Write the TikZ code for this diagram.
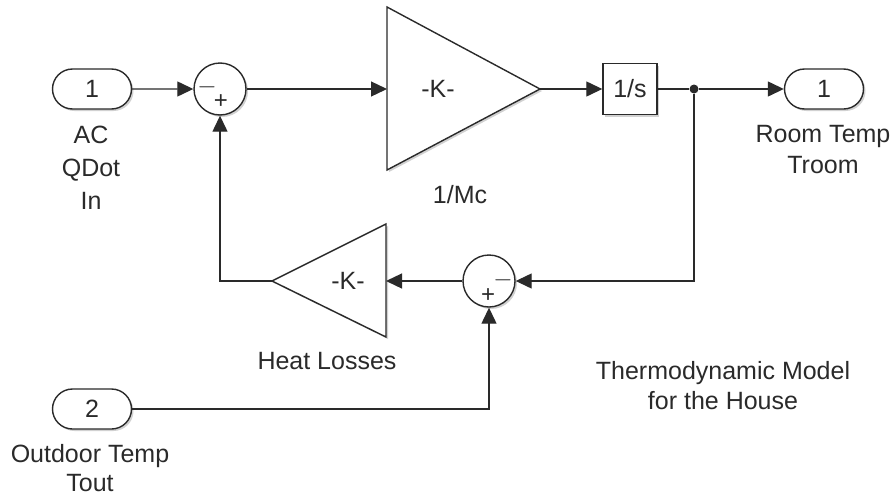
\documentclass[tikz,border=0pt]{standalone}
\usepackage{fontspec}
\setmainfont{Liberation Sans}
\usetikzlibrary{arrows.meta,shapes.misc,shadows}
\definecolor{ln}{HTML}{2A2A2A}
\begin{document}
\begin{tikzpicture}[x=1pt,y=-1pt,
  every node/.style={font=\fontsize{25}{33}\selectfont, text=ln},
  wire/.style={draw=ln, line width=1.3pt},
  arr/.style={wire, -{Triangle[length=16pt,width=15pt]}},
  shd/.style={drop shadow={shadow xshift=2pt, shadow yshift=-2pt, fill=gray!45, opacity=0.8}},
  port/.style={rounded rectangle, draw=ln, line width=1.4pt, fill=white, minimum width=79pt, minimum height=40pt, inner sep=0pt, shd},
  sumblk/.style={circle, draw=ln, line width=1.4pt, fill=white, minimum size=52pt, inner sep=0pt, shd},
  intblk/.style={rectangle, draw=ln, line width=1.4pt, fill=white, minimum width=54pt, minimum height=51pt, inner sep=0pt, shd},
  gainblk/.style={draw=ln, line width=1.4pt, fill=white, line join=miter, shd},
  lbl/.style={align=center, inner sep=0pt},
  sgn/.style={font=\fontsize{24}{24}\selectfont, inner sep=0pt},
  dotnode/.style={circle, fill=ln, minimum size=9pt, inner sep=0pt}]
\useasboundingbox (0,0) rectangle (893,498);

% blocks
\node[port] (in1) at (92,89) {1};
\node[port] (in2) at (92,409) {2};
\node[port] (out1) at (824,89) {1};
\node[sumblk] (s1) at (220,89) {};
\node[sumblk] (s2) at (489,281) {};
\node[intblk] (int) at (630,89) {1/s};

% gain 1/Mc
\draw[gainblk] (387,7) -- (540,89) -- (387,170) -- cycle;
\coordinate (g1in) at (387,89);
\coordinate (g1out) at (540,89);
\node (g1k) at (438,89) {-K-};
\node (g1l) at (460,195) {1/Mc};

% gain heat losses
\draw[gainblk] (386,224) -- (272,281) -- (386,337) -- cycle;
\coordinate (g2in) at (386,281);
\coordinate (g2out) at (272,281);
\node (g2k) at (348,281) {-K-};
\node (g2l) at (327,361) {Heat Losses};

% signs
\node[sgn] (s1m) at (207,87) {$-$};
\node[sgn] (s1p) at (221,102) {+};
\node[sgn] (s2m) at (503,280) {$-$};
\node[sgn] (s2p) at (488,296) {+};

% labels
\node[lbl] (l1) at (91,168) {AC\\QDot\\In};
\node[lbl, font=\fontsize{25}{31}\selectfont] (l2) at (823,150) {Room Temp\\Troom};
\node[lbl, font=\fontsize{25}{29}\selectfont] (l3) at (90,468) {Outdoor Temp\\Tout};
\node[lbl, font=\fontsize{25}{30}\selectfont] (l4) at (723,386) {Thermodynamic Model\\for the House};

% branch point
\node[dotnode] (br) at (694,89) {};

% connectors
\draw[arr] (in1) -- (s1);
\draw[arr] (s1) -- (g1in);
\draw[arr] (g1out) -- (int);
\draw[wire] (int) -- (br);
\draw[arr] (br) -- (out1);
\draw[arr] (br) |- (s2);
\draw[arr] (s2) -- (g2in);
\draw[arr] (g2out) -| (s1);
\draw[arr] (in2) -| (s2);
\end{tikzpicture}
\end{document}
